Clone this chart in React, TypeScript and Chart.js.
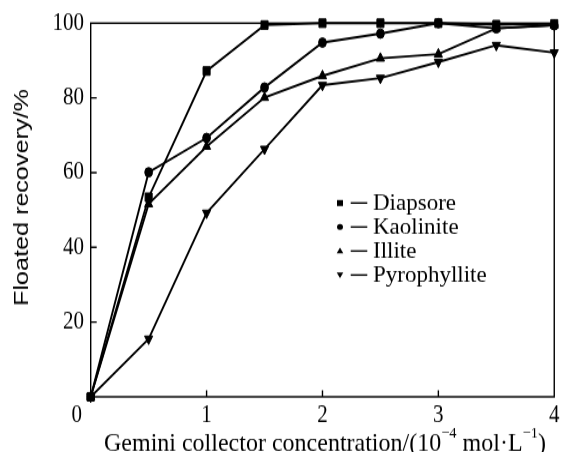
import React, { useEffect, useRef } from 'react';
import { Chart, registerables } from 'chart.js';

Chart.register(...registerables);

// ---- data ----
const concentrations = [0, 0.5, 1, 1.5, 2, 2.5, 3, 3.5, 4];
const diaspore = [0, 53.4, 87.2, 99.5, 100, 100, 100, 99.6, 99.8];
const kaolinite = [0, 60.1, 69.3, 82.8, 94.8, 97.2, 100, 98.6, 99.4];
const illite = [0, 51.6, 67.0, 80.1, 85.9, 90.6, 91.7, 98.6, 99.5];
const pyrophyllite = [0, 15.5, 49.2, 66.3, 83.4, 85.3, 89.6, 94.1, 92.1];
const seriesNames = ['Diapsore', 'Kaolinite', 'Illite', 'Pyrophyllite'];
const xTickValues = [0, 1, 2, 3, 4];
const yTickValues = [0, 20, 40, 60, 80, 100];
const yTitle = 'Floated recovery/%';
const xTitleParts = [
  { text: 'Gemini collector concentration/(10', sup: false },
  { text: '\u22124', sup: true },
  { text: ' mol\u00B7L', sup: false },
  { text: '\u22121', sup: true },
  { text: ')', sup: false },
];
const originLabel = '0';

// ---- geometry ----
const W = 562;
const H = 377;
const S = 452 / H; // vertical stretch applied via CSS
const SERIF = '"Liberation Serif", "Times New Roman", serif';
const SANS = '"Liberation Sans", Arial, sans-serif';

type Shape = 'square' | 'circle' | 'up' | 'down';
const shapes: Shape[] = ['square', 'circle', 'up', 'down'];

function drawShape(ctx: CanvasRenderingContext2D, shape: Shape, x: number, y: number, r: number) {
  ctx.save();
  ctx.translate(x, y);
  ctx.scale(1, 1 / S);
  ctx.beginPath();
  if (shape === 'square') {
    ctx.rect(-r, -r, 2 * r, 2 * r);
  } else if (shape === 'circle') {
    ctx.arc(0, 0, r, 0, Math.PI * 2);
  } else if (shape === 'up') {
    ctx.moveTo(0, -r * 1.1);
    ctx.lineTo(r * 1.1, r * 0.8);
    ctx.lineTo(-r * 1.1, r * 0.8);
    ctx.closePath();
  } else {
    ctx.moveTo(0, r * 1.1);
    ctx.lineTo(r * 1.1, -r * 0.8);
    ctx.lineTo(-r * 1.1, -r * 0.8);
    ctx.closePath();
  }
  ctx.fill();
  ctx.restore();
}

function scaledText(ctx: CanvasRenderingContext2D, text: string, x: number, y: number, vs: number) {
  ctx.save();
  ctx.translate(x, y);
  ctx.scale(1, vs);
  ctx.fillText(text, 0, 0);
  ctx.restore();
}

const decorPlugin = {
  id: 'decor',
  beforeDatasetsDraw(chart: any) {
    const { ctx, chartArea: a } = chart;
    const xs = chart.scales.x;
    const ys = chart.scales.y;
    ctx.save();
    ctx.strokeStyle = '#000';
    ctx.lineWidth = 1.4;
    ctx.strokeRect(a.left, a.top, a.right - a.left, a.bottom - a.top);
    ctx.beginPath();
    for (const v of xTickValues) {
      if (v > xTickValues[0] && v < xTickValues[xTickValues.length - 1]) {
        const px = xs.getPixelForValue(v);
        ctx.moveTo(px, a.bottom);
        ctx.lineTo(px, a.bottom - 5.5);
      }
    }
    for (const v of yTickValues) {
      if (v > yTickValues[0] && v < yTickValues[yTickValues.length - 1]) {
        const py = ys.getPixelForValue(v);
        ctx.moveTo(a.left, py);
        ctx.lineTo(a.left + 6, py);
      }
    }
    ctx.stroke();
    ctx.restore();
  },
  afterDraw(chart: any) {
    const { ctx, chartArea: a } = chart;
    ctx.save();
    ctx.fillStyle = '#000';
    ctx.strokeStyle = '#000';

    // origin label
    ctx.font = `21px ${SERIF}`;
    ctx.textAlign = 'center';
    ctx.textBaseline = 'alphabetic';
    ctx.fillText(originLabel, a.left - 14, 351.7);

    // y title
    ctx.save();
    ctx.font = `21px ${SANS}`;
    ctx.translate(27.8, 197.5 / S);
    ctx.rotate(-Math.PI / 2);
    ctx.textAlign = 'center';
    ctx.textBaseline = 'alphabetic';
    ctx.fillText(yTitle, 0, 0);
    ctx.restore();

    // x title
    const mainFont = `24px ${SERIF}`;
    const supFont = `14.5px ${SERIF}`;
    ctx.textAlign = 'left';
    let total = 0;
    const widths = xTitleParts.map((p) => {
      ctx.font = p.sup ? supFont : mainFont;
      const w = ctx.measureText(p.text).width;
      total += w;
      return w;
    });
    let cx = 325 - total / 2;
    const base = 450.7 / S;
    xTitleParts.forEach((p, i) => {
      ctx.font = p.sup ? supFont : mainFont;
      scaledText(ctx, p.text, cx, p.sup ? base - 11 : base, 0.86);
      cx += widths[i];
    });

    // legend
    ctx.font = `23px ${SERIF}`;
    ctx.lineWidth = 1.4;
    seriesNames.forEach((name, i) => {
      const my = (203 + 24 * i) / S;
      drawShape(ctx, shapes[i], 340, my, 3);
      ctx.beginPath();
      ctx.moveTo(350.7, my);
      ctx.lineTo(367.3, my);
      ctx.stroke();
      scaledText(ctx, name, 373, (209.5 + 24 * i) / S, 0.82);
    });
    ctx.restore();
  },
};

export default function App() {
  const ref = useRef<HTMLCanvasElement | null>(null);
  useEffect(() => {
    document.body.style.margin = '0';
    const canvas = ref.current;
    if (!canvas) return;
    const series = [diaspore, kaolinite, illite, pyrophyllite];
    const styles: any[] = [
      { pointStyle: 'rect', pointRadius: 5, pointRotation: 0 },
      { pointStyle: 'circle', pointRadius: 3.9, pointRotation: 0 },
      { pointStyle: 'triangle', pointRadius: 4.7, pointRotation: 0 },
      { pointStyle: 'triangle', pointRadius: 4.7, pointRotation: 180 },
    ];
    const chart = new Chart(canvas, {
      type: 'line',
      data: {
        datasets: series.map((arr, i) => ({
          label: seriesNames[i],
          data: concentrations.map((c, j) => ({ x: c, y: arr[j] })),
          borderColor: '#000',
          backgroundColor: '#000',
          pointBackgroundColor: '#000',
          pointBorderColor: '#000',
          pointBorderWidth: 1,
          borderWidth: 1.9,
          tension: 0,
          clip: false as any,
          ...styles[i],
        })),
      },
      plugins: [decorPlugin],
      options: {
        responsive: false,
        animation: false,
        events: [],
        devicePixelRatio: 1,
        layout: { padding: { left: 0, right: 6, top: 22.7 / S, bottom: 0 } },
        plugins: { legend: { display: false }, tooltip: { enabled: false } },
        scales: {
          x: {
            type: 'linear',
            min: 0,
            max: 4,
            afterFit: (scale: any) => {
              scale.height = H - 396.8 / S;
            },
            afterBuildTicks: (scale: any) => {
              scale.ticks = xTickValues.map((v) => ({ value: v }));
            },
            ticks: {
              autoSkip: false,
              maxRotation: 0,
              padding: 2.5,
              color: '#000',
              font: { family: SERIF, size: 21 },
              callback: (v: any) => (v === 0 ? '' : String(v)),
            },
            grid: { display: false, drawTicks: false },
            border: { display: false },
          },
          y: {
            type: 'linear',
            min: 0,
            max: 100,
            afterFit: (scale: any) => {
              scale.width = 90.7;
            },
            afterBuildTicks: (scale: any) => {
              scale.ticks = yTickValues.map((v) => ({ value: v }));
            },
            ticks: {
              autoSkip: false,
              padding: 6.7,
              color: '#000',
              font: { family: SERIF, size: 21 },
              callback: (v: any) => (v === 0 ? '' : String(v)),
            },
            grid: { display: false, drawTicks: false },
            border: { display: false },
          },
        },
      },
    } as any);
    return () => chart.destroy();
  }, []);
  return (
    <div style={{ width: W, height: 452, overflow: 'hidden', background: '#fff' }}>
      <canvas
        ref={ref}
        width={W}
        height={H}
        style={{ display: 'block', width: W, height: H, transform: `scaleY(${S})`, transformOrigin: '0 0' }}
      />
    </div>
  );
}
